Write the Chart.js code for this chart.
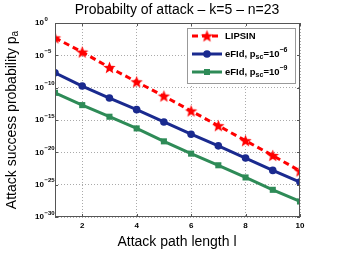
<!DOCTYPE html>
<html>
<head>
<meta charset="utf-8">
<script src="https://cdn.jsdelivr.net/npm/chart.js@4"></script>
<style>
  body { margin: 0; background: #fff; }
</style>
</head>
<body>
<canvas id="attackChart" width="353" height="254"></canvas>
<script>
// path lengths on the x axis
const pathLengths = [1, 2, 3, 4, 5, 6, 7, 8, 9, 10];
// success probabilities
const lipsin = [5.0e-3, 3.2e-5, 1.3e-7, 7.9e-10, 5.0e-12, 2.5e-14, 1.3e-16, 6.3e-19, 3.2e-21, 1.3e-23];
const efidSc6 = [2.0e-8, 1.8e-10, 2.5e-12, 4.0e-14, 5.0e-16, 6.3e-18, 1.0e-19, 1.3e-21, 1.6e-23, 2.5e-25];
const efidSc9 = [1.6e-11, 2.0e-13, 3.2e-15, 5.0e-17, 5.0e-19, 6.3e-21, 1.0e-22, 1.3e-24, 1.6e-26, 2.5e-28];
const xTicks = [2, 4, 6, 8, 10];
const yTickExp = [0, -5, -10, -15, -20, -25, -30];

const RED = '#ff0000', BLUE = '#1a2a8f', GREEN = '#2e8b57';
const FONT = '"Liberation Sans", Arial, Helvetica, sans-serif';

// filled five point star for the LIPSIN markers
function makeStar(r, color) {
  const c = document.createElement('canvas');
  c.width = c.height = Math.ceil(r * 2 + 2);
  const g = c.getContext('2d');
  const cx = c.width / 2, cy = c.height / 2 + 0.5;
  g.beginPath();
  for (let i = 0; i < 10; i++) {
    const rad = i % 2 === 0 ? r : r * 0.42;
    const ang = -Math.PI / 2 + i * Math.PI / 5;
    g.lineTo(cx + rad * Math.cos(ang), cy + rad * Math.sin(ang));
  }
  g.closePath();
  g.fillStyle = color;
  g.fill();
  return c;
}
const star = makeStar(6.5, RED);

function toPoints(ys) {
  return pathLengths.map((x, i) => ({ x: x, y: ys[i] }));
}

// text with a raised or lowered part: parts = [[text, size, dy], ...]
function richText(ctx, parts, x, y, bold) {
  let cx = x;
  parts.forEach(p => {
    ctx.font = (bold ? 'bold ' : '') + p[1] + 'px ' + FONT;
    ctx.fillText(p[0], cx, y + p[2]);
    cx += ctx.measureText(p[0]).width;
  });
}

const decorPlugin = {
  id: 'decor',
  afterDraw(chart) {
    const ctx = chart.ctx;
    const a = chart.chartArea;
    const xs = chart.scales.x, ys = chart.scales.y;
    ctx.save();

    // axes box and inner tick marks
    ctx.strokeStyle = '#555';
    ctx.lineWidth = 1;
    ctx.strokeRect(a.left + 0.5, a.top + 0.5, a.right - a.left - 1, a.bottom - a.top - 1);
    ctx.beginPath();
    xTicks.forEach(v => {
      const px = Math.round(xs.getPixelForValue(v)) + 0.5;
      ctx.moveTo(px, a.bottom); ctx.lineTo(px, a.bottom - 3);
      ctx.moveTo(px, a.top); ctx.lineTo(px, a.top + 3);
    });
    yTickExp.forEach(e => {
      const py = Math.round(ys.getPixelForValue(Math.pow(10, e))) + 0.5;
      ctx.moveTo(a.left, py); ctx.lineTo(a.left + 3, py);
      ctx.moveTo(a.right, py); ctx.lineTo(a.right - 3, py);
    });
    ctx.stroke();

    ctx.fillStyle = '#000';
    // x tick labels
    ctx.font = 'bold 8px ' + FONT;
    ctx.textAlign = 'center';
    ctx.textBaseline = 'middle';
    xTicks.forEach(v => ctx.fillText(String(v), xs.getPixelForValue(v), a.bottom + 9));

    // y tick labels 10^e
    yTickExp.forEach(e => {
      const py = ys.getPixelForValue(Math.pow(10, e));
      ctx.textAlign = 'right';
      ctx.font = 'bold 8px ' + FONT;
      ctx.fillText('10', a.left - 11, py);
      ctx.textAlign = 'left';
      ctx.font = 'bold 6px ' + FONT;
      ctx.fillText(e === 0 ? '0' : '\u2212' + (-e), a.left - 10.5, py - 4);
    });

    // title and axis titles
    ctx.textAlign = 'center';
    ctx.font = '14px ' + FONT;
    ctx.fillText('Probabilty of attack \u2013 k=5 \u2013 n=23', 177, 10);
    ctx.fillText('Attack path length l', 177, 242);

    ctx.save();
    ctx.translate(12, 120);
    ctx.rotate(-Math.PI / 2);
    ctx.textAlign = 'left';
    ctx.font = '14px ' + FONT;
    const main = 'Attack success probability p';
    const w1 = ctx.measureText(main).width;
    ctx.font = '10px ' + FONT;
    const w2 = ctx.measureText('a').width;
    richText(ctx, [[main, 14, 0], ['a', 10, 3.5]], -(w1 + w2) / 2, 0, false);
    ctx.restore();

    // legend
    const lx = 187, ly = 28, lw = 108, lh = 55;
    ctx.fillStyle = '#fff';
    ctx.fillRect(lx, ly, lw, lh);
    ctx.strokeStyle = '#999';
    ctx.strokeRect(lx + 0.5, ly + 0.5, lw, lh);
    const rows = [
      { y: 36, color: RED, dash: [6, 4], marker: 'star', parts: [['LIPSIN', 9.5, 0]] },
      { y: 54, color: BLUE, dash: [], marker: 'circle', parts: [['eFId, p', 9.5, 0], ['sc', 7, 3], ['=10', 9.5, 0], ['\u22126', 7, -4]] },
      { y: 72, color: GREEN, dash: [], marker: 'rect', parts: [['eFId, p', 9.5, 0], ['sc', 7, 3], ['=10', 9.5, 0], ['\u22129', 7, -4]] }
    ];
    rows.forEach(r => {
      ctx.strokeStyle = r.color;
      ctx.lineWidth = 3;
      ctx.setLineDash(r.dash);
      ctx.beginPath();
      ctx.moveTo(192, r.y); ctx.lineTo(222, r.y);
      ctx.stroke();
      ctx.setLineDash([]);
      ctx.fillStyle = r.color;
      if (r.marker === 'star') {
        ctx.drawImage(star, 207 - star.width / 2, r.y - star.height / 2);
      } else if (r.marker === 'circle') {
        ctx.beginPath(); ctx.arc(207, r.y, 3.8, 0, Math.PI * 2); ctx.fill();
      } else {
        ctx.fillRect(204, r.y - 3, 6, 6);
      }
      ctx.fillStyle = '#000';
      ctx.textAlign = 'left';
      ctx.textBaseline = 'middle';
      richText(ctx, r.parts, 225, r.y, true);
    });
    ctx.restore();
  }
};

const chart = new Chart(document.getElementById('attackChart').getContext('2d'), {
  type: 'line',
  data: {
    datasets: [
      {
        label: 'eFId, p_sc=10^-9',
        data: toPoints(efidSc9),
        borderColor: GREEN,
        backgroundColor: GREEN,
        borderWidth: 3,
        pointStyle: 'rect',
        pointRadius: 4.3,
        pointBorderWidth: 0
      },
      {
        label: 'eFId, p_sc=10^-6',
        data: toPoints(efidSc6),
        borderColor: BLUE,
        backgroundColor: BLUE,
        borderWidth: 3,
        pointStyle: 'circle',
        pointRadius: 3.8,
        pointBorderWidth: 0
      },
      {
        label: 'LIPSIN',
        data: toPoints(lipsin),
        borderColor: RED,
        backgroundColor: RED,
        borderWidth: 3,
        borderDash: [6, 4],
        pointStyle: star,
        pointRadius: 6
      }
    ]
  },
  options: {
    responsive: false,
    animation: false,
    devicePixelRatio: 1,
    layout: { padding: { left: 55, right: 53, top: 23, bottom: 37 } },
    plugins: { legend: { display: false }, tooltip: { enabled: false } },
    scales: {
      x: {
        type: 'linear',
        min: 1,
        max: 10,
        afterBuildTicks: s => { s.ticks = xTicks.map(v => ({ value: v })); },
        ticks: { display: false },
        grid: { color: '#aaa', drawTicks: false },
        border: { display: false, dash: [1, 2] }
      },
      y: {
        type: 'logarithmic',
        min: 1e-30,
        max: 1,
        afterBuildTicks: s => { s.ticks = yTickExp.map(e => ({ value: Math.pow(10, e) })); },
        ticks: { display: false },
        grid: { color: '#aaa', drawTicks: false },
        border: { display: false, dash: [1, 2] }
      }
    }
  },
  plugins: [decorPlugin]
});
</script>
</body>
</html>
